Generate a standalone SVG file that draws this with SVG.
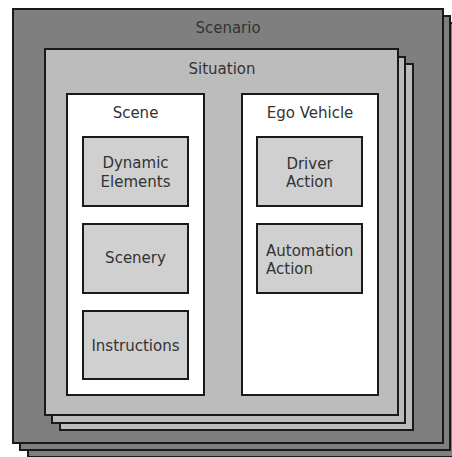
<svg xmlns="http://www.w3.org/2000/svg" width="452" height="457" viewBox="0 0 452 457">
<style>
rect{stroke:#1a1a1a;stroke-width:2}
.scn{fill:#7f7f7f}
.sit{fill:#bcbcbc}
.wb{fill:#ffffff}
.ib{fill:#d0d0d0}
text{font-family:"DejaVu Sans",Verdana,sans-serif;font-size:15px;fill:#333333}
.c{text-anchor:middle}
</style>
<rect width="452" height="457" fill="#ffffff" style="stroke:none"/>
<g id="scenario">
<rect class="scn" x="28" y="23" width="430" height="434"/>
<rect class="scn" x="20" y="16" width="430" height="434"/>
<rect class="scn" x="13" y="9" width="430" height="434"/>
<text class="c" x="228" y="33">Scenario</text>
</g>
<g id="situation">
<rect class="sit" x="60" y="64" width="353" height="366"/>
<rect class="sit" x="52" y="57" width="353" height="366"/>
<rect class="sit" x="45" y="49" width="353" height="366"/>
<text class="c" x="222" y="74">Situation</text>
</g>
<g id="scene">
<rect class="wb" x="67" y="94" width="137" height="301"/>
<text class="c" x="135.5" y="118">Scene</text>
</g>
<g id="dynamic-elements">
<rect class="ib" x="83" y="137" width="105" height="69"/>
<text class="c" x="135.5" y="168">Dynamic</text>
<text class="c" x="135.5" y="187">Elements</text>
</g>
<g id="scenery">
<rect class="ib" x="83" y="224" width="105" height="69"/>
<text class="c" x="135.5" y="263">Scenery</text>
</g>
<g id="instructions">
<rect class="ib" x="83" y="311" width="105" height="68"/>
<text class="c" x="135.5" y="351">Instructions</text>
</g>
<g id="ego-vehicle">
<rect class="wb" x="242" y="94" width="136" height="301"/>
<text class="c" x="310" y="118">Ego Vehicle</text>
</g>
<g id="driver-action">
<rect class="ib" x="257" y="137" width="105" height="69"/>
<text class="c" x="309.5" y="169">Driver</text>
<text class="c" x="309.5" y="187">Action</text>
</g>
<g id="automation-action">
<rect class="ib" x="257" y="224" width="105" height="69"/>
<text x="266" y="256">Automation</text>
<text x="266" y="274">Action</text>
</g>
<g id="connectors"></g>
</svg>
